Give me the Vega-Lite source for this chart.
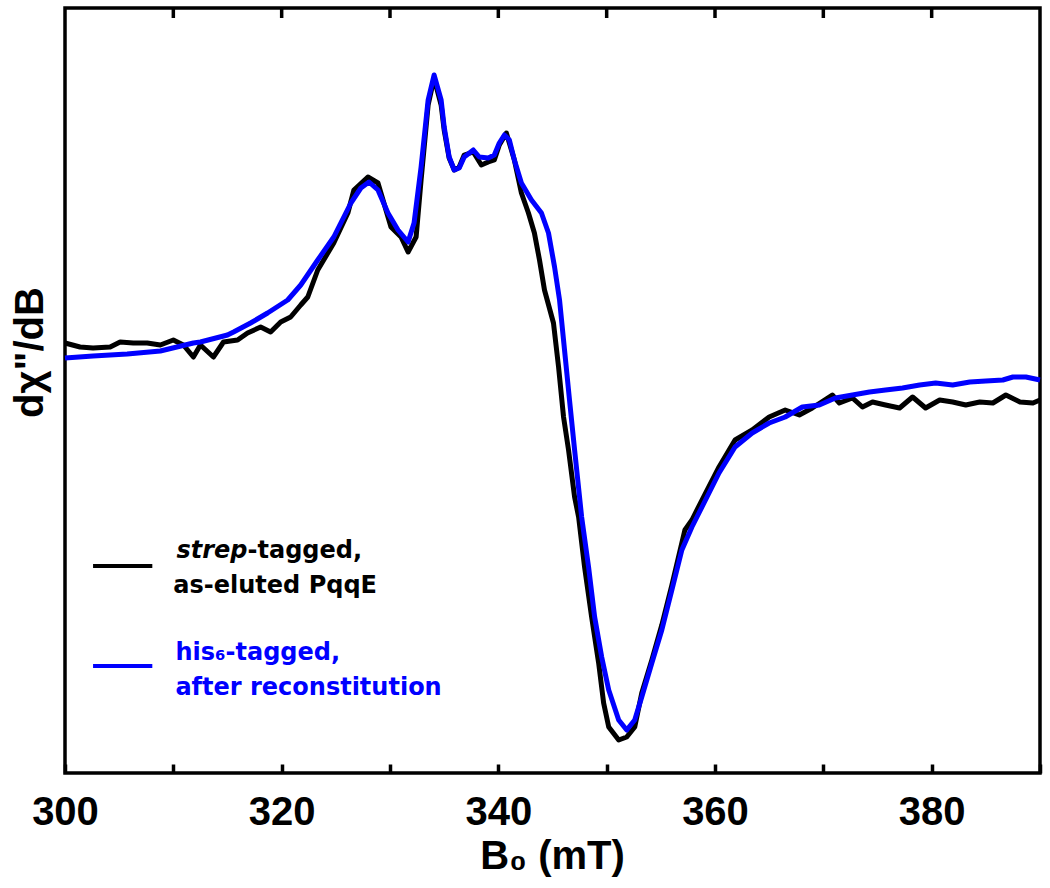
{
  "$schema": "https://vega.github.io/schema/vega-lite/v6.json",
  "width": 975,
  "height": 765,
  "autosize": {"type": "none"},
  "padding": {"left": 65, "top": 8, "right": 10, "bottom": 115},
  "background": "white",
  "config": {"view": {"stroke": "black", "strokeWidth": 3.5}, "font": "Liberation Sans"},
  "resolve": {"axis": {"x": "independent", "y": "independent"}},
  "datasets": {
    "strep": [
      {"B":300.0,"dchi":17},{"B":301.39,"dchi":13},{"B":302.59,"dchi":12},{"B":304.17,"dchi":13},{"B":305.09,"dchi":18},{"B":306.3,"dchi":17},{"B":307.59,"dchi":17},{"B":308.8,"dchi":15},{"B":310.0,"dchi":20},{"B":310.93,"dchi":15},{"B":311.85,"dchi":3},{"B":312.5,"dchi":15},{"B":313.7,"dchi":3},{"B":314.63,"dchi":18},{"B":315.93,"dchi":20},{"B":316.85,"dchi":27},{"B":318.06,"dchi":33},{"B":318.98,"dchi":28},{"B":319.91,"dchi":38},{"B":320.83,"dchi":43},{"B":321.76,"dchi":55},{"B":322.41,"dchi":63},{"B":323.33,"dchi":90},{"B":324.81,"dchi":117},{"B":326.11,"dchi":147},{"B":326.67,"dchi":170},{"B":327.96,"dchi":183},{"B":328.89,"dchi":177},{"B":330.09,"dchi":133},{"B":331.02,"dchi":123},{"B":331.67,"dchi":108},{"B":332.41,"dchi":123},{"B":332.87,"dchi":180},{"B":333.52,"dchi":255},{"B":334.07,"dchi":282},{"B":334.72,"dchi":255},{"B":335.0,"dchi":230},{"B":335.46,"dchi":202},{"B":335.93,"dchi":190},{"B":336.39,"dchi":193},{"B":336.85,"dchi":205},{"B":337.69,"dchi":208},{"B":338.43,"dchi":195},{"B":339.07,"dchi":198},{"B":339.63,"dchi":200},{"B":340.09,"dchi":215},{"B":340.74,"dchi":227},{"B":341.48,"dchi":200},{"B":342.13,"dchi":167},{"B":342.78,"dchi":147},{"B":343.33,"dchi":127},{"B":343.8,"dchi":100},{"B":344.26,"dchi":70},{"B":345.09,"dchi":37},{"B":345.56,"dchi":-7},{"B":346.02,"dchi":-57},{"B":346.48,"dchi":-90},{"B":347.04,"dchi":-137},{"B":347.41,"dchi":-157},{"B":347.96,"dchi":-207},{"B":348.61,"dchi":-257},{"B":349.26,"dchi":-303},{"B":349.72,"dchi":-343},{"B":350.19,"dchi":-367},{"B":351.11,"dchi":-380},{"B":351.85,"dchi":-377},{"B":352.59,"dchi":-367},{"B":353.24,"dchi":-333},{"B":354.17,"dchi":-300},{"B":355.09,"dchi":-265},{"B":356.02,"dchi":-225},{"B":357.22,"dchi":-170},{"B":357.87,"dchi":-160},{"B":358.8,"dchi":-140},{"B":360.37,"dchi":-107},{"B":361.85,"dchi":-80},{"B":363.43,"dchi":-70},{"B":365.0,"dchi":-57},{"B":366.48,"dchi":-50},{"B":367.78,"dchi":-55},{"B":368.98,"dchi":-48},{"B":370.83,"dchi":-35},{"B":371.48,"dchi":-43},{"B":372.69,"dchi":-38},{"B":373.61,"dchi":-47},{"B":374.54,"dchi":-42},{"B":375.74,"dchi":-45},{"B":377.04,"dchi":-48},{"B":378.24,"dchi":-37},{"B":379.44,"dchi":-48},{"B":380.74,"dchi":-40},{"B":381.94,"dchi":-42},{"B":383.15,"dchi":-45},{"B":384.44,"dchi":-42},{"B":385.65,"dchi":-43},{"B":386.85,"dchi":-35},{"B":388.15,"dchi":-42},{"B":389.35,"dchi":-43},{"B":390.0,"dchi":-40}
    ],
    "his6": [
      {"B":300.0,"dchi":2},{"B":302.59,"dchi":4},{"B":305.74,"dchi":6},{"B":308.8,"dchi":9},{"B":311.85,"dchi":17},{"B":312.5,"dchi":18},{"B":315.0,"dchi":25},{"B":315.56,"dchi":28},{"B":317.13,"dchi":37},{"B":318.7,"dchi":47},{"B":320.56,"dchi":60},{"B":321.76,"dchi":75},{"B":323.33,"dchi":100},{"B":324.81,"dchi":123},{"B":326.39,"dchi":157},{"B":327.31,"dchi":172},{"B":328.06,"dchi":178},{"B":328.89,"dchi":170},{"B":329.81,"dchi":147},{"B":330.74,"dchi":130},{"B":331.67,"dchi":118},{"B":332.22,"dchi":137},{"B":332.87,"dchi":193},{"B":333.52,"dchi":260},{"B":334.07,"dchi":285},{"B":334.72,"dchi":260},{"B":335.0,"dchi":233},{"B":335.46,"dchi":203},{"B":335.93,"dchi":190},{"B":336.39,"dchi":192},{"B":336.85,"dchi":203},{"B":337.69,"dchi":210},{"B":338.24,"dchi":203},{"B":339.07,"dchi":202},{"B":339.63,"dchi":205},{"B":340.09,"dchi":217},{"B":340.56,"dchi":225},{"B":341.02,"dchi":220},{"B":341.48,"dchi":200},{"B":342.13,"dchi":177},{"B":343.06,"dchi":160},{"B":343.98,"dchi":147},{"B":344.63,"dchi":127},{"B":345.19,"dchi":93},{"B":345.65,"dchi":60},{"B":346.11,"dchi":10},{"B":346.57,"dchi":-40},{"B":347.04,"dchi":-90},{"B":347.69,"dchi":-157},{"B":348.33,"dchi":-207},{"B":348.89,"dchi":-257},{"B":349.54,"dchi":-297},{"B":350.19,"dchi":-330},{"B":351.11,"dchi":-360},{"B":351.85,"dchi":-370},{"B":352.59,"dchi":-360},{"B":353.24,"dchi":-337},{"B":354.17,"dchi":-303},{"B":355.09,"dchi":-270},{"B":356.02,"dchi":-230},{"B":356.94,"dchi":-190},{"B":357.87,"dchi":-167},{"B":358.8,"dchi":-147},{"B":360.37,"dchi":-113},{"B":361.85,"dchi":-87},{"B":363.43,"dchi":-73},{"B":365.0,"dchi":-63},{"B":366.48,"dchi":-57},{"B":368.06,"dchi":-47},{"B":369.63,"dchi":-45},{"B":371.11,"dchi":-38},{"B":372.69,"dchi":-35},{"B":374.26,"dchi":-32},{"B":375.74,"dchi":-30},{"B":377.31,"dchi":-28},{"B":378.89,"dchi":-25},{"B":380.37,"dchi":-23},{"B":381.94,"dchi":-25},{"B":383.52,"dchi":-22},{"B":385.0,"dchi":-21},{"B":386.57,"dchi":-20},{"B":387.5,"dchi":-17},{"B":388.7,"dchi":-17},{"B":390.0,"dchi":-20}
    ],
    "topTicks": [
      {"B":310,"top":352,"inner":342},{"B":320,"top":352,"inner":342},{"B":330,"top":352,"inner":342},{"B":340,"top":352,"inner":342},
      {"B":350,"top":352,"inner":342},{"B":360,"top":352,"inner":342},{"B":370,"top":352,"inner":342},{"B":380,"top":352,"inner":342}
    ],
    "legendLines": [
      {"sample":"strep","B":302.59,"B2":308.06,"dchi":-206},
      {"sample":"his6","B":302.59,"B2":308.06,"dchi":-306}
    ],
    "legendText": [
      {"sample":"strep","B":316.85,"dchi":-198,"label":"-tagged,"},
      {"sample":"strep","B":310.0,"dchi":-233,"label":"as-eluted PqqE"},
      {"sample":"his6","B":310.19,"dchi":-300,"label":"his₆-tagged,"},
      {"sample":"his6","B":310.19,"dchi":-335,"label":"after reconstitution"}
    ],
    "legendItalic": [
      {"sample":"strep","B":316.85,"dchi":-198,"label":"strep"}
    ]
  },
  "layer": [
    {
      "data": {"name": "strep"},
      "mark": {"type": "line", "strokeWidth": 5, "color": "#000000", "strokeJoin": "round"},
      "encoding": {
        "x": {"field": "B", "type": "quantitative",
          "scale": {"domain": [300, 390], "nice": false, "zero": false},
          "axis": {"orient": "bottom", "values": [300,310,320,330,340,350,360,370,380,390],
            "labelExpr": "datum.value % 20 === 0 ? datum.label : ''",
            "domain": false, "grid": false, "tickSize": -9, "tickWidth": 3.5, "tickColor": "black",
            "labelFontSize": 40, "labelFont": "Liberation Sans", "labelFontWeight": "bold", "labelColor": "black",
            "labelBaseline": "alphabetic", "labelPadding": 60, "labelFlush": false, "labelOverlap": false,
            "title": "B₀ (mT)", "titleFont": "Liberation Sans", "titleFontSize": 40, "titleFontWeight": "bold", "titleColor": "black",
            "titleBaseline": "alphabetic", "titleY": 95, "titleX": 487}},
        "y": {"field": "dchi", "type": "quantitative",
          "scale": {"domain": [-413, 352], "nice": false, "zero": false},
          "axis": {"orient": "left", "domain": false, "ticks": false, "labels": true, "labelOpacity": 0, "grid": false,
            "title": "dχ\"/dB", "titleFont": "Liberation Sans", "titleFontSize": 40, "titleFontWeight": "bold", "titleColor": "black",
            "titlePadding": 1, "titleX": -15, "titleY": 344}}
      }
    },
    {
      "data": {"name": "his6"},
      "mark": {"type": "line", "strokeWidth": 5, "color": "#0000ff", "strokeJoin": "round"},
      "encoding": {
        "x": {"field": "B", "type": "quantitative", "axis": null},
        "y": {"field": "dchi", "type": "quantitative", "axis": null}
      }
    },
    {
      "data": {"name": "topTicks"},
      "mark": {"type": "rule", "strokeWidth": 3.5, "color": "black"},
      "encoding": {
        "x": {"field": "B", "type": "quantitative", "axis": null},
        "y": {"field": "top", "type": "quantitative", "axis": null},
        "y2": {"field": "inner"}
      }
    },
    {
      "data": {"name": "legendLines"},
      "mark": {"type": "rule", "strokeWidth": 4},
      "encoding": {
        "x": {"field": "B", "type": "quantitative", "axis": null},
        "x2": {"field": "B2"},
        "y": {"field": "dchi", "type": "quantitative", "axis": null},
        "color": {"field": "sample", "type": "nominal", "scale": {"domain": ["strep", "his6"], "range": ["#000000", "#0000ff"]}, "legend": null}
      }
    },
    {
      "data": {"name": "legendText"},
      "mark": {"type": "text", "font": "DejaVu Sans", "fontWeight": "bold", "fontSize": 24, "align": "left", "baseline": "alphabetic"},
      "encoding": {
        "x": {"field": "B", "type": "quantitative", "axis": null},
        "y": {"field": "dchi", "type": "quantitative", "axis": null},
        "text": {"field": "label"},
        "color": {"field": "sample", "type": "nominal", "legend": null}
      }
    },
    {
      "data": {"name": "legendItalic"},
      "mark": {"type": "text", "font": "DejaVu Sans", "fontWeight": "bold", "fontStyle": "italic", "fontSize": 24, "align": "right", "baseline": "alphabetic"},
      "encoding": {
        "x": {"field": "B", "type": "quantitative", "axis": null},
        "y": {"field": "dchi", "type": "quantitative", "axis": null},
        "text": {"field": "label"},
        "color": {"field": "sample", "type": "nominal", "legend": null}
      }
    }
  ]
}
